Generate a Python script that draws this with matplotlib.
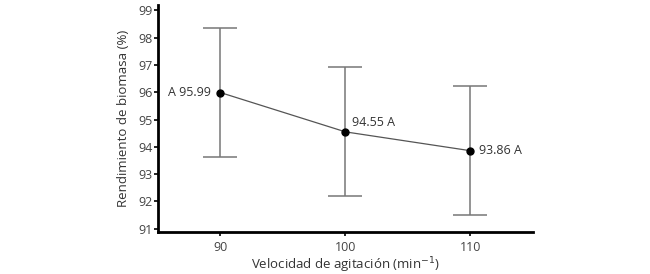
import matplotlib.pyplot as plt

plt.rcParams['font.family'] = ['Open Sans', 'DejaVu Sans']

velocidad = [90, 100, 110]
rendimiento = [95.99, 94.55, 93.86]
desviacion = [2.36, 2.36, 2.37]
etiquetas = ['A 95.99', '94.55 A', '93.86 A']
yticks = [91, 92, 93, 94, 95, 96, 97, 98, 99]

fig = plt.figure(figsize=(6.5, 2.74), dpi=100)
ax = fig.add_axes([0.243, 0.155, 0.577, 0.827])

ax.errorbar(velocidad, rendimiento, yerr=desviacion, fmt='none',
            ecolor='#777777', elinewidth=1.1, capsize=12.5, capthick=1.1, zorder=1)
ax.plot(velocidad, rendimiento, color='#555555', lw=0.9, zorder=2)
ax.plot(velocidad, rendimiento, 'o', color='black', ms=5, zorder=3)

ax.annotate(etiquetas[0], (velocidad[0], rendimiento[0]), xytext=(-7, 0),
            textcoords='offset points', ha='right', va='center', fontsize=9, color='#333333')
ax.annotate(etiquetas[1], (velocidad[1], rendimiento[1]), xytext=(5, 7),
            textcoords='offset points', ha='left', va='center', fontsize=9, color='#333333')
ax.annotate(etiquetas[2], (velocidad[2], rendimiento[2]), xytext=(6, 0),
            textcoords='offset points', ha='left', va='center', fontsize=9, color='#333333')

ax.set_xlim(85, 115)
ax.set_ylim(90.9, 99.2)
ax.set_xticks(velocidad)
ax.set_yticks(yticks)
ax.tick_params(axis='both', labelsize=9, labelcolor='#444444', length=3, width=1.2)
ax.tick_params(axis='y', pad=1)

for s in ['top', 'right']:
    ax.spines[s].set_visible(False)
for s in ['left', 'bottom']:
    ax.spines[s].set_linewidth(2)

ax.set_ylabel('Rendimiento de biomasa (%)', fontsize=9.5, color='#333333', labelpad=6)
ax.set_xlabel('Velocidad de agitación (min$^{-1}$)', fontsize=9.5, color='#333333', labelpad=1)

fig.savefig('out.png', dpi=100)
